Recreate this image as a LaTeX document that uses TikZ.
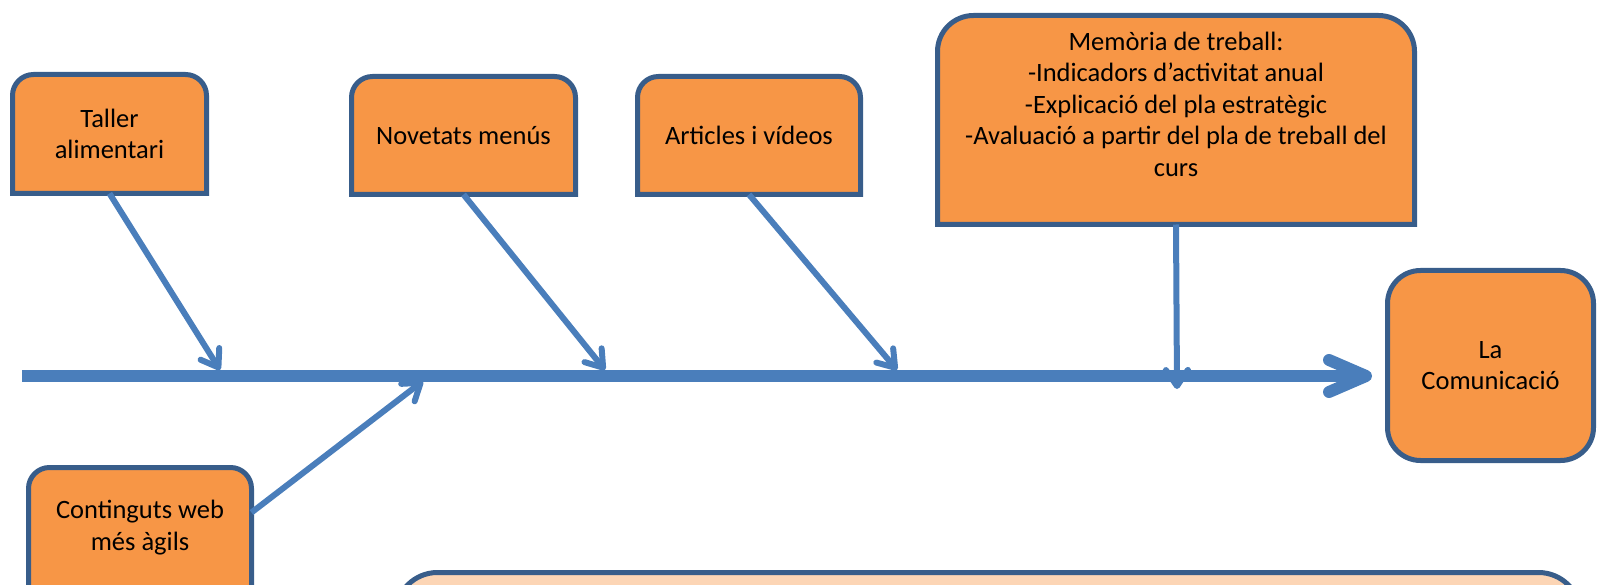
\documentclass[tikz,border=0pt]{standalone}
\usepackage{fontspec}
\setmainfont{Carlito}
\usetikzlibrary{arrows.meta,backgrounds}
\definecolor{boxfill}{HTML}{F79646}
\definecolor{boxedge}{HTML}{385D8A}
\definecolor{flow}{HTML}{4A7EBB}
\definecolor{notefill}{HTML}{FCD5B5}
% outline with rounded top corners and square bottom corners
\newcommand\tabframe[3]{%
  \draw[frame, fill=#3] (#1.south east) -- (#1.south west) [rounded corners=#2]
    -- (#1.north west) -- (#1.north east) [sharp corners] -- cycle;}
\begin{document}
\begin{tikzpicture}[x=1pt,y=-1pt,
  every node/.style={font=\fontsize{26.5}{31.5}\selectfont, align=center,
    inner sep=0pt, outer sep=0pt},
  causebox/.style={rectangle, minimum width=#1},
  frame/.style={line width=5pt, draw=boxedge},
  spine/.style={line width=12pt, draw=flow, line cap=butt,
    -{Straight Barb[length=37pt,width=32pt,line cap=round,line join=round]}},
  branch/.style={line width=6pt, draw=flow,
    -{Straight Barb[length=16pt,width=22pt,line cap=round,line join=round]}}]
\useasboundingbox (0,0) rectangle (1598,585);
\clip (0,0) rectangle (1598,585);

% cause boxes
\node[causebox=194pt, minimum height=119pt] (taller) at (109.5,134) {Taller\\alimentari};
\node[causebox=224pt, minimum height=118pt] (novetats) at (463.5,135.5) {Novetats menús};
\node[causebox=223pt, minimum height=118pt] (articles) at (749,135.5) {Articles i vídeos};
\node[causebox=477pt, minimum height=209pt] (memoria) at (1176,120)
  {Memòria de treball:\\-Indicadors d’activitat anual\\-Explicació del pla estratègic\\
   -Avaluació a partir del pla de treball del\\curs\\\mbox{}};
\node[causebox=223pt, minimum height=120pt] (contingut) at (140,527.5) {Continguts web\\més àgils};
\node[causebox=1185pt, minimum height=100pt] (nota) at (988,622.5) {};

% effect box
\node[causebox=206pt, minimum height=190pt, frame, fill=boxfill,
  rounded corners=33pt] (comunicacio) at (1490.5,365.5) {La\\Comunicació};

\begin{scope}[on background layer]
  \tabframe{taller}{21pt}{boxfill}
  \tabframe{novetats}{21pt}{boxfill}
  \tabframe{articles}{21pt}{boxfill}
  \tabframe{memoria}{36pt}{boxfill}
  \tabframe{contingut}{21pt}{boxfill}
  \tabframe{nota}{42pt}{notefill}
\end{scope}

% main spine
\coordinate (tail) at (22,376);
\coordinate (head) at (1372,376);
\draw[spine] (tail) -- (head);

% branches meeting the spine
\coordinate (j1) at (220,370);
\coordinate (j2) at (605,370);
\coordinate (j3) at (897,370);
\coordinate (j4) at (1177,389);
\coordinate (j5) at (423,381);
\draw[branch] (taller.south) -- (j1);
\draw[branch] (novetats.south) -- (j2);
\draw[branch] (articles.south) -- (j3);
\draw[branch] (memoria.south) -- (j4);
\draw[branch] ([yshift=15pt]contingut.east) -- (j5);
\end{tikzpicture}
\end{document}
